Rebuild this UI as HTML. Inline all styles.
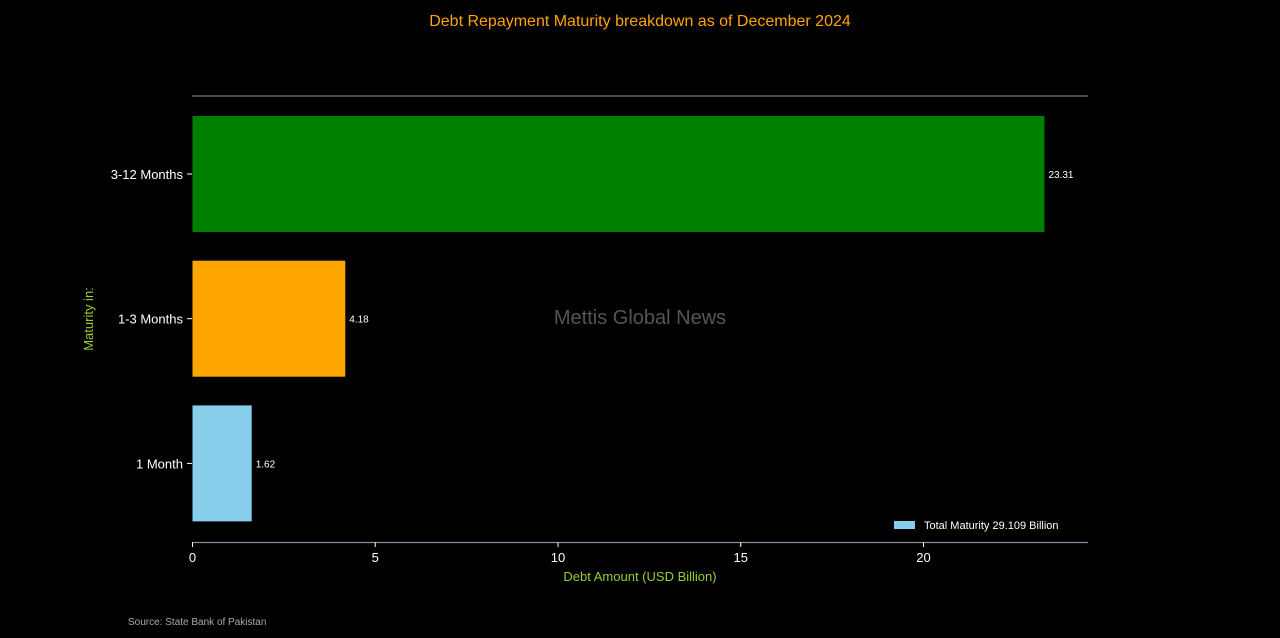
<!DOCTYPE html>
<html><head><meta charset="utf-8"><style>
html,body{margin:0;padding:0;background:#000;}
svg{display:block;font-family:"Liberation Sans","DejaVu Sans",sans-serif;}
</style></head><body>
<svg id="chart" width="1280" height="638" viewBox="0 0 1280 638">
<rect width="1280" height="638" fill="#000"/>
<text x="640" y="26" text-anchor="middle" fill="#ffa500" font-size="16">Debt Repayment Maturity breakdown as of December 2024</text>
<line x1="192" y1="96" x2="1088" y2="96" stroke="#777" stroke-width="1.2"/>
<line x1="192" y1="542.5" x2="1088" y2="542.5" stroke="#8890a0" stroke-width="1.2"/>
<text x="640" y="324" text-anchor="middle" fill="#555" font-size="20">Mettis Global News</text>
<text transform="translate(93,319) rotate(-90)" text-anchor="middle" fill="#9acd32" font-size="13">Maturity in:</text>
<text x="640" y="581" text-anchor="middle" fill="#9acd32" font-size="13">Debt Amount (USD Billion)</text>
<text x="128" y="625" fill="#aaa" font-size="10">Source: State Bank of Pakistan</text>
<g id="bars"></g><g id="xticks"></g>
<rect x="894" y="521" width="21" height="8" fill="#87ceeb"/>
<text x="924" y="529" fill="#fff" font-size="11">Total Maturity 29.109 Billion</text>
</svg>
<script>
const categories = ["3-12 Months","1-3 Months","1 Month"];
const values = [23.31,4.18,1.62];
const colors = ["#008000","#ffa500","#87ceeb"];
const xTickValues = [0,5,10,15,20];
const ns="http://www.w3.org/2000/svg";
const x0=192.5, pxPerUnit=36.55;
function xScale(v){return x0+v*pxPerUnit;}
const bandTop=106, bandStep=144.7, barH=116;
function yBand(i){return bandTop+i*bandStep+10;}
function mk(tag,attrs){const e=document.createElementNS(ns,tag);for(const k in attrs)e.setAttribute(k,attrs[k]);return e;}
const bars=document.getElementById('bars');
categories.forEach((c,i)=>{
  const y=yBand(i);
  const r=mk('rect',{x:xScale(0),y:y,width:xScale(values[i])-xScale(0),height:barH,fill:colors[i]});
  
  
  bars.appendChild(r);
  const lbl=mk('text',{x:xScale(values[i])+4,y:y+barH/2+4,fill:'#fff','font-size':10});
  lbl.textContent=values[i].toFixed(2).replace(/0$/,'').replace(/\.$/,'');
  lbl.textContent=String(values[i]);
  
  
  bars.appendChild(lbl);
  const t=mk('text',{x:183,y:y+barH/2+5,fill:'#fff','font-size':13,'text-anchor':'end'});
  t.textContent=c;
  
  
  bars.appendChild(t);
  const tk=mk('line',{x1:187,x2:192,y1:y+barH/2,y2:y+barH/2,stroke:'#fff'});
  
  
  bars.appendChild(tk);
});
const xt=document.getElementById('xticks');
xTickValues.forEach(v=>{
  const x=xScale(v);
  const l=mk('line',{x1:x,x2:x,y1:542.5,y2:547,stroke:'#fff'});
  
  
  xt.appendChild(l);
  const t=mk('text',{x:x,y:562,fill:'#fff','font-size':13,'text-anchor':'middle'});
  t.textContent=v;
  
  
  xt.appendChild(t);
});
</script>
</body></html>
